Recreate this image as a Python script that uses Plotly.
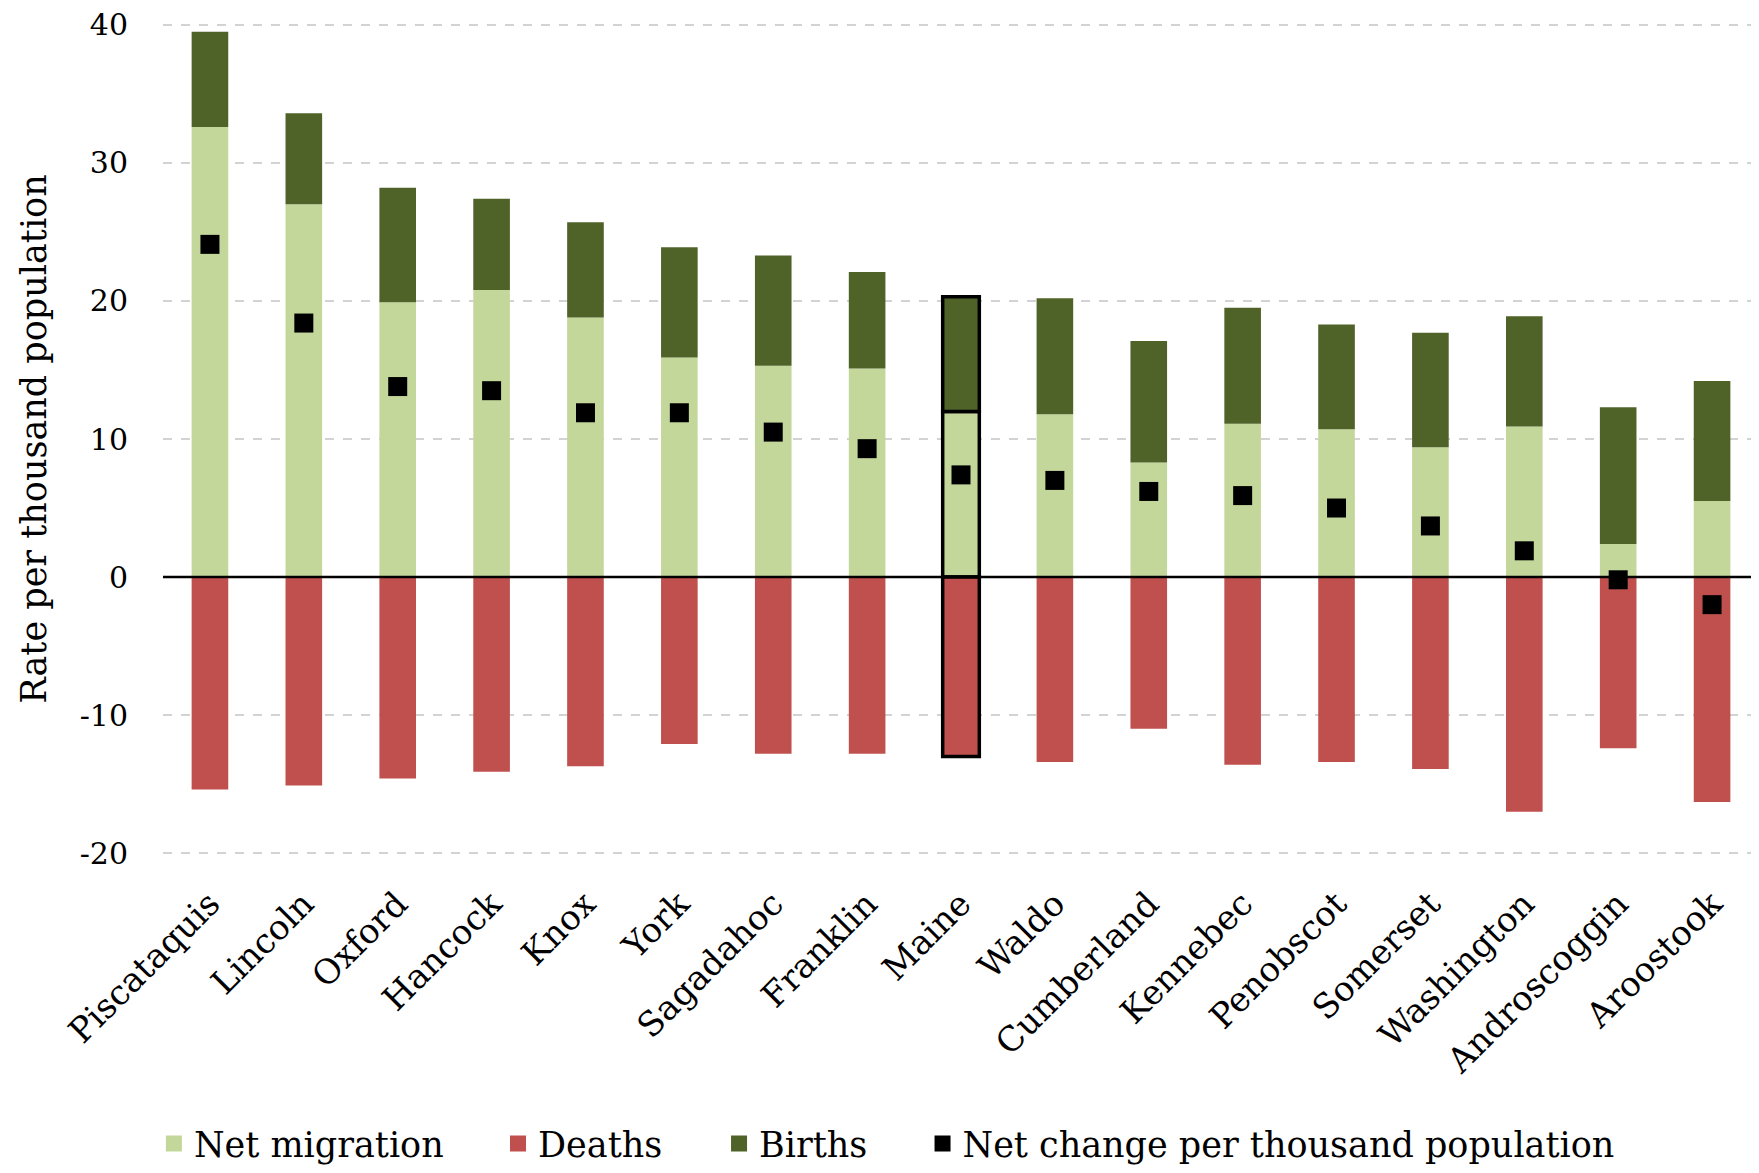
import plotly.graph_objects as go

counties = ["Piscataquis", "Lincoln", "Oxford", "Hancock", "Knox", "York", "Sagadahoc",
            "Franklin", "Maine", "Waldo", "Cumberland", "Kennebec", "Penobscot",
            "Somerset", "Washington", "Androscoggin", "Aroostook"]
net_migration = [32.6, 27.0, 19.9, 20.8, 18.8, 15.9, 15.3, 15.1, 12.0, 11.8, 8.3, 11.1, 10.7, 9.4, 10.9, 2.4, 5.5]
births = [6.9, 6.6, 8.3, 6.6, 6.9, 8.0, 8.0, 7.0, 8.3, 8.4, 8.8, 8.4, 7.6, 8.3, 8.0, 9.9, 8.7]
deaths = [-15.4, -15.1, -14.6, -14.1, -13.7, -12.1, -12.8, -12.8, -13.0, -13.4, -11.0, -13.6, -13.4, -13.9, -17.0, -12.4, -16.3]
net_change = [24.1, 18.4, 13.8, 13.5, 11.9, 11.9, 10.5, 9.3, 7.4, 7.0, 6.2, 5.9, 5.0, 3.7, 1.9, -0.2, -2.0]
y_ticks = [-20, -10, 0, 10, 20, 30, 40]

highlight = "Maine"
line_w = [3.5 if c == highlight else 0 for c in counties]

FONT = "DejaVu Serif"
BAR_W = 0.39
C_MIG, C_DEATH, C_BIRTH, C_NET = "#C4D79B", "#C0504D", "#4F6228", "#000000"

fig = go.Figure()
fig.add_trace(go.Bar(x=counties, y=net_migration, name="Net migration", width=BAR_W,
                     marker=dict(color=C_MIG, line=dict(color="black", width=line_w)),
                     showlegend=False))
fig.add_trace(go.Bar(x=counties, y=births, name="Births", width=BAR_W,
                     marker=dict(color=C_BIRTH, line=dict(color="black", width=line_w)),
                     showlegend=False))
fig.add_trace(go.Bar(x=counties, y=deaths, name="Deaths", width=BAR_W,
                     marker=dict(color=C_DEATH, line=dict(color="black", width=line_w)),
                     showlegend=False))
fig.add_trace(go.Scatter(x=counties, y=net_change, name="Net change per thousand population",
                         mode="markers", marker=dict(symbol="square", size=19, color=C_NET),
                         showlegend=False))

# legend entries (one legend box per entry to reproduce the spacing)
legend_entries = [("Net migration", C_MIG, "legend", -0.0057),
                  ("Deaths", C_DEATH, "legend2", 0.2099),
                  ("Births", C_BIRTH, "legend3", 0.3484),
                  ("Net change per thousand population", C_NET, "legend4", 0.4759)]
leg_layout = {}
for name, col, leg, lx in legend_entries:
    fig.add_trace(go.Scatter(x=[None], y=[None], mode="markers", name=name,
                             marker=dict(symbol="square", size=18, color=col),
                             showlegend=True, legend=leg))
    leg_layout[leg] = dict(orientation="h", x=lx, xanchor="left", y=-0.337, yanchor="middle",
                           font=dict(family=FONT, size=35, color="black"),
                           itemwidth=30, bgcolor="rgba(0,0,0,0)")

fig.add_shape(type="line", xref="paper", x0=0, x1=1, yref="y", y0=0, y1=0,
              line=dict(color="black", width=2.5), layer="above")

fig.update_layout(
    width=1759, height=1173,
    barmode="relative",
    plot_bgcolor="white", paper_bgcolor="white",
    margin=dict(l=155, r=8, t=10, b=297),
    font=dict(family=FONT, size=30, color="black"),
    showlegend=True,
    xaxis=dict(tickangle=-45, tickfont=dict(size=34), showgrid=False, showline=False,
               ticks="", range=[-0.5, 16.5], automargin=False, ticklabelstandoff=16),
    yaxis=dict(range=[-20.5, 40.5], tickvals=y_ticks, ticktext=[str(v) for v in y_ticks],
               tickfont=dict(size=30), showgrid=True, gridcolor="#d3d3d3", griddash="dash",
               gridwidth=1.5, zeroline=False, showline=False, ticklabelstandoff=34,
               automargin=False, ticklabeloverflow="allow",
               title=dict(text="Rate per thousand population", font=dict(size=35), standoff=22)),
    **leg_layout,
)

fig.write_html("out.html")
